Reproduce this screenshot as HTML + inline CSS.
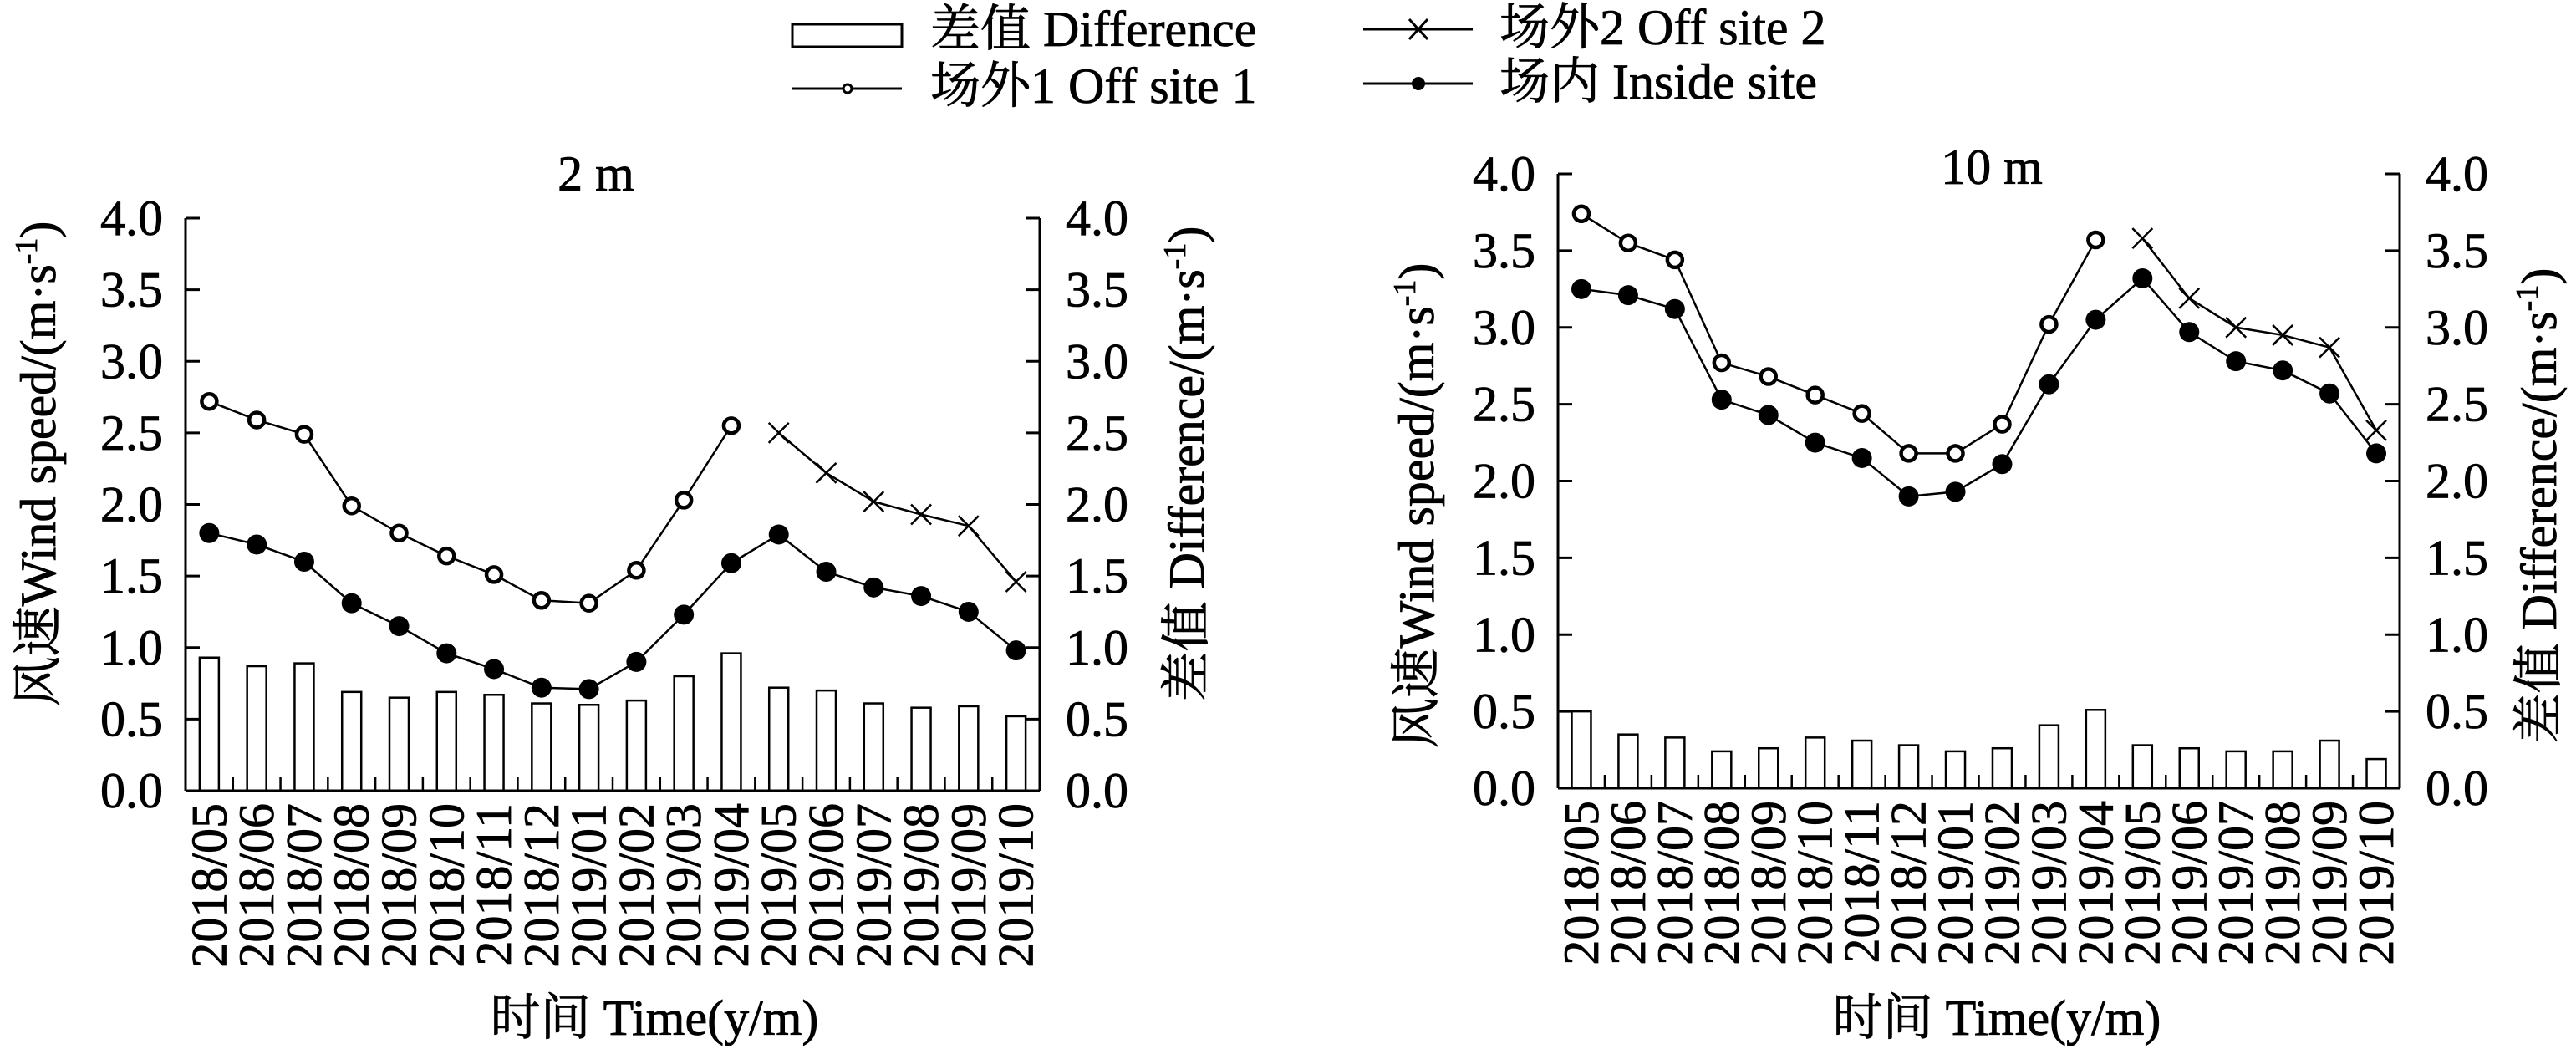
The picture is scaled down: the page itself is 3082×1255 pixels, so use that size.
<!DOCTYPE html>
<html><head><meta charset="utf-8"><style>
html,body{margin:0;padding:0;background:#fff;}
svg{display:block;font-family:"Liberation Serif","Noto Serif CJK SC","Noto Sans CJK SC",serif;}
text{stroke:#000;stroke-width:0.8px;}
</style></head><body>
<svg id="s" width="3082" height="1255" xmlns="http://www.w3.org/2000/svg">
<rect x="948" y="29" width="131" height="27" fill="#fff" stroke="#000" stroke-width="3"/>
<text x="1113" y="55" font-size="60">差值 Difference</text>
<line x1="948" y1="106" x2="1079" y2="106" stroke="#000" stroke-width="3"/>
<circle cx="1014" cy="106" r="5" fill="#fff" stroke="#000" stroke-width="3"/>
<text x="1113" y="123" font-size="60">场外1 Off site 1</text>
<line x1="1631" y1="35" x2="1762" y2="35" stroke="#000" stroke-width="3"/>
<path d="M1686 23 L1708 47 M1708 23 L1686 47" stroke="#000" stroke-width="3"/>
<text x="1794" y="53" font-size="60">场外2 Off site 2</text>
<line x1="1631" y1="100" x2="1762" y2="100" stroke="#000" stroke-width="3"/>
<circle cx="1697" cy="100" r="8" fill="#000"/>
<text x="1794" y="118" font-size="60">场内 Inside site</text>
<g id="g"></g>
</svg>
<script>
const NS="http://www.w3.org/2000/svg";
const g=document.getElementById('g');
function el(t,a,txt){const e=document.createElementNS(NS,t);for(const k in a)e.setAttribute(k,a[k]);if(txt!==undefined)e.textContent=txt;g.appendChild(e);return e;}
const labels=["2018/05","2018/06","2018/07","2018/08","2018/09","2018/10","2018/11","2018/12","2019/01","2019/02","2019/03","2019/04","2019/05","2019/06","2019/07","2019/08","2019/09","2019/10"];
function chart(c){
 const {L,R,T,B}=c;const cw=(R-L)/18;const ys=v=>B-(B-T)*v/4;const xs=i=>L+cw*(i+0.5);
 c.diff.forEach((v,i)=>el('rect',{x:xs(i)-11.5,y:ys(v),width:23,height:B-ys(v),fill:'#fff',stroke:'#000','stroke-width':2.5}));
 el('line',{x1:L,y1:T,x2:L,y2:B,stroke:'#000','stroke-width':3});
 el('line',{x1:R,y1:T,x2:R,y2:B,stroke:'#000','stroke-width':3});
 el('line',{x1:L,y1:B,x2:R,y2:B,stroke:'#000','stroke-width':3});
 for(let k=0;k<=8;k++){const v=k*0.5,y=ys(v);
  el('line',{x1:L,y1:y,x2:L+17,y2:y,stroke:'#000','stroke-width':3});
  el('line',{x1:R-17,y1:y,x2:R,y2:y,stroke:'#000','stroke-width':3});
  el('text',{x:L-27,y:y+20,'font-size':60,'text-anchor':'end'},v.toFixed(1));
  el('text',{x:R+31,y:y+20,'font-size':60},v.toFixed(1));}
 for(let i=1;i<18;i++){const x=L+cw*i;el('line',{x1:x,y1:B,x2:x,y2:B-16,stroke:'#000','stroke-width':2.5});}
 labels.forEach((s,i)=>el('text',{transform:`translate(${xs(i)+20},${B+15}) rotate(-90)`,'font-size':60,'text-anchor':'end'},s));
 const pl=(arr,off)=>arr.map((v,i)=>`${xs(i+off)},${ys(v)}`).join(' ');
 el('polyline',{points:pl(c.off1,0),fill:'none',stroke:'#000','stroke-width':2.5});
 el('polyline',{points:pl(c.off2,12),fill:'none',stroke:'#000','stroke-width':2.5});
 el('polyline',{points:pl(c.ins,0),fill:'none',stroke:'#000','stroke-width':2.5});
 c.off1.forEach((v,i)=>el('circle',{cx:xs(i),cy:ys(v),r:9,fill:'#fff',stroke:'#000','stroke-width':4.5}));
 c.off2.forEach((v,i)=>{const x=xs(i+12),y=ys(v);el('path',{d:`M${x-12} ${y-12}L${x+12} ${y+12}M${x+12} ${y-12}L${x-12} ${y+12}`,stroke:'#000','stroke-width':2.5});});
 c.ins.forEach((v,i)=>el('circle',{cx:xs(i),cy:ys(v),r:12,fill:'#000'}));
 el('text',{x:c.tx,y:c.ty,'font-size':60,'text-anchor':'middle'},c.title);
 el('text',{x:c.xtx,y:1238,'font-size':60,'text-anchor':'middle'},'时间 Time(y/m)');
 el('text',{transform:`translate(${c.ylx},${c.yc}) rotate(-90)`,'font-size':60,'text-anchor':'middle'}).innerHTML='风速Wind speed/(m·s<tspan dy="-22" font-size="38">-1</tspan><tspan dy="22">)</tspan>';
 el('text',{transform:`translate(${c.yrx},${c.yc}) rotate(-90)`,'font-size':60,'text-anchor':'middle'}).innerHTML='差值 Difference/(m·s<tspan dy="-22" font-size="38">-1</tspan><tspan dy="22">)</tspan>';
}
chart({L:222,R:1244,T:261,B:946,title:'2 m',tx:713,ty:228,xtx:783,ylx:66,yrx:1440,yc:555,
 off1:[2.72,2.59,2.49,1.99,1.80,1.64,1.51,1.33,1.31,1.54,2.03,2.55],
 off2:[2.50,2.22,2.02,1.93,1.85,1.46],
 ins:[1.80,1.72,1.60,1.31,1.15,0.96,0.85,0.72,0.71,0.90,1.23,1.59,1.79,1.53,1.42,1.36,1.25,0.98],
 diff:[0.93,0.87,0.89,0.69,0.65,0.69,0.67,0.61,0.60,0.63,0.80,0.96,0.72,0.70,0.61,0.58,0.59,0.52]});
chart({L:1864,R:2871,T:208,B:943,title:'10 m',tx:2383,ty:220,xtx:2389,ylx:1715,yrx:3058,yc:605,
 off1:[3.74,3.55,3.44,2.77,2.68,2.56,2.44,2.18,2.18,2.37,3.02,3.57],
 off2:[3.58,3.19,3.00,2.95,2.87,2.33],
 ins:[3.25,3.21,3.12,2.53,2.43,2.25,2.15,1.90,1.93,2.11,2.63,3.05,3.32,2.97,2.78,2.72,2.57,2.18],
 diff:[0.50,0.35,0.33,0.24,0.26,0.33,0.31,0.28,0.24,0.26,0.41,0.51,0.28,0.26,0.24,0.24,0.31,0.19]});
</script>
</body></html>
